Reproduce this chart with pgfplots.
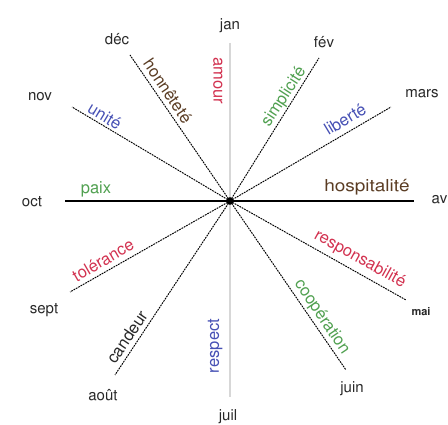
\documentclass[border=0pt]{standalone}
\usepackage[T1]{fontenc}
\usepackage{helvet}
\renewcommand{\familydefault}{\sfdefault}
\usepackage{pgfplots}
\pgfplotsset{compat=1.18}
\definecolor{cred}{RGB}{210,50,80}
\definecolor{cgreen}{RGB}{80,160,80}
\definecolor{cblue}{RGB}{70,80,180}
\definecolor{cbrown}{RGB}{90,60,35}
\definecolor{cgrey}{RGB}{215,215,215}
\definecolor{ctext}{RGB}{40,40,40}
\tikzset{lb/.style={font=\fontsize{15}{16}\selectfont, inner sep=0pt},
  wd/.style={font=\fontsize{16.5}{17}\selectfont, inner sep=0pt},
  sp/.style={black, line width=0.95pt, dash pattern=on 1.8pt off 0.9pt}}
\begin{document}
\begin{tikzpicture}
\begin{axis}[name=ax, hide axis, scale only axis, width=448pt, height=425pt,
  xmin=0, xmax=448, ymin=0, ymax=425, clip=false]
% grey vertical jan--juil
\addplot[cgrey, line width=1.6pt] coordinates {(230,382) (230,28)};
% solid horizontal oct--avr
\addplot[black, line width=1.7pt] coordinates {(65,224) (414,224)};
% dashed spokes
\addplot[sp] coordinates {(230,224) (319,367)};
\addplot[sp] coordinates {(230,224) (391,318)};
\addplot[sp] coordinates {(230,224) (406,125)};
\addplot[sp] coordinates {(230,224) (346,55)};
\addplot[sp] coordinates {(230,224) (115,50)};
\addplot[sp] coordinates {(230,224) (70,133)};
\addplot[sp] coordinates {(230,224) (72,318)};
\addplot[sp] coordinates {(230,224) (130,370)};
\addplot[black, only marks, mark=*, mark size=3.5pt] coordinates {(230,224)};
% month labels
\node[lb, ctext] at (axis cs:230,399) {jan};
\node[lb, ctext] at (axis cs:324,383) {fév};
\node[lb, ctext] at (axis cs:422,331) {mars};
\node[lb, ctext] at (axis cs:442,225) {avr};
\node[lb, ctext, font=\bfseries\fontsize{11}{12}\selectfont] at (axis cs:421,113) {mai};
\node[lb, ctext] at (axis cs:352,36) {juin};
\node[lb, ctext] at (axis cs:228,8) {juil};
\node[lb, ctext] at (axis cs:103,30) {août};
\node[lb, ctext] at (axis cs:44,115) {sept};
\node[lb, ctext] at (axis cs:32,223) {oct};
\node[lb, ctext] at (axis cs:40,328) {nov};
\node[lb, ctext] at (axis cs:117,386) {déc};
% words
\node[wd, cred, rotate=-90] at (axis cs:218,344) {amour};
\node[wd, cblue, rotate=90] at (axis cs:215,79) {respect};
\node[wd, cgreen, rotate=57] at (axis cs:284,328) {simplicité};
\node[wd, cblue, rotate=31] at (axis cs:345,306) {liberté};
\node[wd, cbrown, xscale=1.15] at (axis cs:367,238) {hospitalité};
\node[wd, cred, rotate=-29] at (axis cs:360,166) {responsabilité};
\node[wd, cgreen, rotate=-56] at (axis cs:322,108) {coopération};
\node[wd, ctext, rotate=56] at (axis cs:127,88) {candeur};
\node[wd, cred, rotate=30] at (axis cs:103,165) {tolérance};
\node[wd, cgreen] at (axis cs:96,236) {paix};
\node[wd, cblue, rotate=-31] at (axis cs:105,309) {unité};
\node[wd, cbrown, rotate=-56] at (axis cs:168,334) {honnêteté};
\end{axis}
\pgfresetboundingbox
\path (ax.south west) rectangle (ax.north east);
\end{tikzpicture}
\end{document}
